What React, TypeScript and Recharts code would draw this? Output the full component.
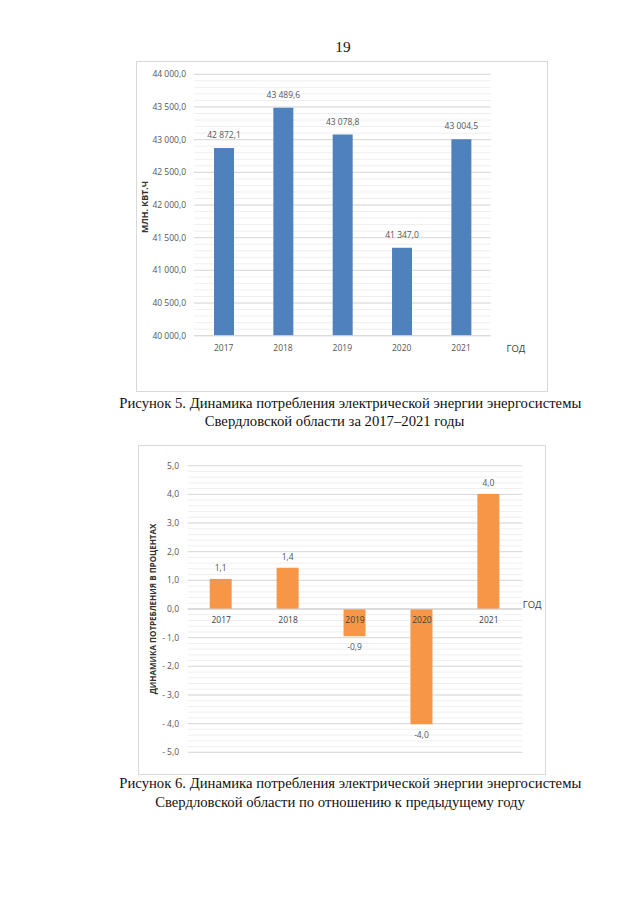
import React from 'react';
import {
  BarChart,
  Bar,
  XAxis,
  YAxis,
  CartesianGrid,
  LabelList,
  ComposedChart,
  Line,
  ReferenceLine,
} from 'recharts';

// ---------- data ----------
const years = ['2017', '2018', '2019', '2020', '2021'];
const consumption = [42872.1, 43489.6, 43078.8, 41347.0, 43004.5];
const dynamics = [1.05, 1.44, -0.95, -4.02, 4.01];

const consTicks = [40000, 40500, 41000, 41500, 42000, 42500, 43000, 43500, 44000];
const dynTicks = [-5, -4, -3, -2, -1, 0, 1, 2, 3, 4, 5];

const consMinor = Array.from({ length: 41 }, (_, i) => 40000 + i * 100);
const dynMinor = Array.from({ length: 51 }, (_, i) => Math.round((-5 + i * 0.2) * 10) / 10);

const consData = years.map((y, i) => ({ year: y, value: consumption[i] }));
const dynData = years.map((y, i) => ({ year: y, value: dynamics[i], zero: 0 }));

// ---------- formatting ----------
const groupNum = (v: number) => {
  const [int, dec] = Math.abs(v).toFixed(1).split('.');
  const g = int.replace(/\B(?=(\d{3})+(?!\d))/g, '\u00a0');
  return (v < 0 ? '-' : '') + g + ',' + dec;
};
const dynTickFmt = (v: number) =>
  v < 0 ? '- ' + Math.abs(v).toFixed(1).replace('.', ',') : v.toFixed(1).replace('.', ',');
const dynLabelFmt = (v: number) => v.toFixed(1).replace('.', ',');

const FONT = '"Open Sans", "DejaVu Sans", sans-serif';
const SERIF = '"Liberation Serif", "Times New Roman", serif';
const TICK = { fontSize: 8.5, fill: '#555555', fontFamily: FONT };

const abs = (l: number, t: number): React.CSSProperties => ({ position: 'absolute', left: l, top: t });

const Caption = ({ cx, cy, text, size = 14.7 }: { cx: number; cy: number; text: string; size?: number }) => (
  <div
    style={{
      position: 'absolute',
      left: cx,
      top: cy,
      transform: 'translate(-50%, -50%)',
      whiteSpace: 'nowrap',
      fontFamily: SERIF,
      fontSize: size,
      color: '#111',
      lineHeight: 1,
    }}
  >
    {text}
  </div>
);

const VTitle = ({ cx, cy, text, size }: { cx: number; cy: number; text: string; size: number }) => (
  <div
    style={{
      position: 'absolute',
      left: cx,
      top: cy,
      transform: 'translate(-50%, -50%) rotate(-90deg)',
      whiteSpace: 'nowrap',
      fontFamily: FONT,
      fontWeight: 700,
      fontSize: size,
      color: '#333',
      lineHeight: 1,
    }}
  >
    {text}
  </div>
);

const Small = ({ x, cy, text }: { x: number; cy: number; text: string }) => (
  <div
    style={{
      position: 'absolute',
      left: x,
      top: cy,
      transform: 'translateY(-50%)',
      whiteSpace: 'nowrap',
      fontFamily: FONT,
      fontSize: 9.5,
      color: '#404040',
      lineHeight: 1,
    }}
  >
    {text}
  </div>
);

export default function App() {
  return (
    <div style={{ position: 'absolute', left: 0, top: 0, width: 640, height: 905, background: '#fff', overflow: 'hidden' }}>
      {/* page number */}
      <Caption cx={343} cy={47} text="19" size={15.3} />

      {/* ---------- chart 1 ---------- */}
      <div style={{ ...abs(136, 61), width: 412, height: 331, border: '1px solid #d9d9d9', boxSizing: 'border-box' }} />
      <div style={abs(136, 61)}>
        <BarChart
          width={412}
          height={331}
          data={consData}
          margin={{ top: 13.3, right: 57.3, bottom: 26.3, left: 0 }}
        >
          <CartesianGrid horizontalValues={consMinor} vertical={false} stroke="#efefef" />
          <CartesianGrid horizontalValues={consTicks} vertical={false} stroke="#d9d9d9" />
          <XAxis
            dataKey="year"
            height={30}
            tick={TICK}
            tickLine={false}
            tickMargin={3}
            axisLine={{ stroke: '#d9d9d9' }}
          />
          <YAxis
            width={58}
            domain={[40000, 44000]}
            ticks={consTicks}
            interval={0}
            tick={TICK}
            tickFormatter={groupNum}
            axisLine={false}
            tickLine={false}
          />
          <Bar dataKey="value" fill="#4f81bd" barSize={20} isAnimationActive={false}>
            <LabelList dataKey="value" position="top" offset={10} formatter={groupNum} style={TICK} />
          </Bar>
        </BarChart>
      </div>
      <VTitle cx={145} cy={207} text="МЛН. КВТ.Ч" size={8.8} />
      <Small x={506.5} cy={348.5} text="ГОД" />

      <Caption cx={350.3} cy={403} text="Рисунок 5. Динамика потребления электрической энергии энергосистемы" />
      <Caption cx={334.5} cy={421} text="Свердловской области за 2017–2021 годы" />

      {/* ---------- chart 2 ---------- */}
      <div style={{ ...abs(138, 445), width: 408, height: 330, border: '1px solid #d9d9d9', boxSizing: 'border-box' }} />
      <div style={abs(138, 445)}>
        <ComposedChart
          width={408}
          height={330}
          data={dynData}
          margin={{ top: 20.7, right: 23.7, bottom: 22.7, left: 0 }}
        >
          <CartesianGrid horizontalValues={dynMinor} vertical={false} stroke="#efefef" />
          <CartesianGrid horizontalValues={dynTicks} vertical={false} stroke="#d9d9d9" />
          <XAxis dataKey="year" hide height={0} />
          <YAxis
            width={49.7}
            domain={[-5, 5]}
            ticks={dynTicks}
            interval={0}
            tick={TICK}
            tickFormatter={dynTickFmt}
            tickMargin={2.7}
            axisLine={false}
            tickLine={false}
          />
          <ReferenceLine y={0} stroke="#d0d0d0" ifOverflow="extendDomain" />
          <Bar dataKey="value" fill="#f79646" barSize={22} isAnimationActive={false}>
            <LabelList dataKey="value" position="top" offset={8} formatter={dynLabelFmt} style={TICK} />
          </Bar>
          <Line
            dataKey="zero"
            stroke="none"
            dot={false}
            activeDot={false}
            legendType="none"
            isAnimationActive={false}
          >
            <LabelList dataKey="year" position="bottom" offset={8} style={{ ...TICK, fill: '#404040' }} />
          </Line>
        </ComposedChart>
      </div>
      <VTitle cx={152.7} cy={609} text="ДИНАМИКА ПОТРЕБЛЕНИЯ В ПРОЦЕНТАХ" size={8} />
      <Small x={522.7} cy={605} text="ГОД" />

      <Caption cx={350.3} cy={783} text="Рисунок 6. Динамика потребления электрической энергии энергосистемы" />
      <Caption cx={340} cy={802} text="Свердловской области по отношению к предыдущему году" />
    </div>
  );
}
